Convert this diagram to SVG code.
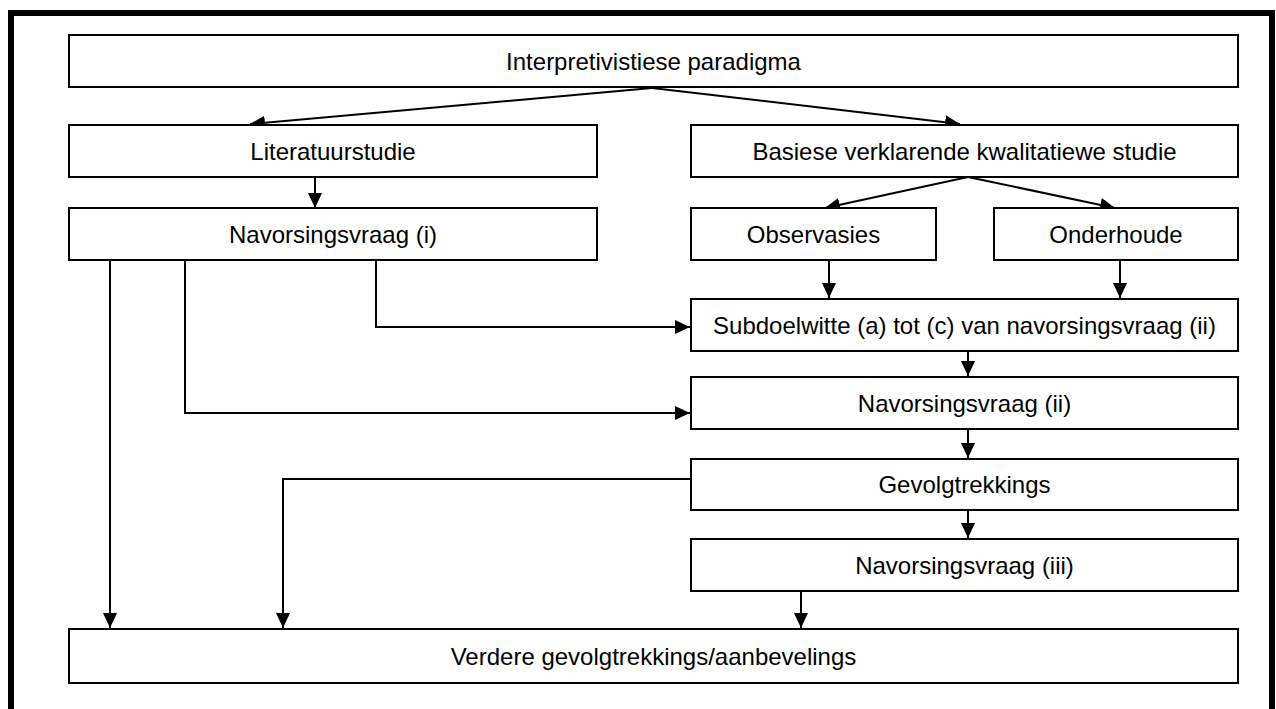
<svg xmlns="http://www.w3.org/2000/svg" width="1276" height="709" viewBox="0 0 1276 709">
<style>
.box{fill:#fff;stroke:#000;stroke-width:2}
.lbl{font-family:"Liberation Sans",Arial,sans-serif;font-size:24px;fill:#000;text-anchor:middle}
.con{fill:none;stroke:#000;stroke-width:2;marker-end:url(#ah)}
</style>
<defs>
<marker id="ah" markerUnits="userSpaceOnUse" markerWidth="15" markerHeight="15" refX="15" refY="7.5" orient="auto" viewBox="0 0 15 15">
<path d="M0,0.5 L15,7.5 L0,14.5 z" fill="#000"/>
</marker>
</defs>
<rect width="1276" height="709" fill="#fff"/>
<path d="M11,709 V13 H1272 V709" fill="none" stroke="#000" stroke-width="6"/>
<g id="connectors">
<path class="con" d="M652,88 L250,124"/>
<path class="con" d="M652,88 L960,124"/>
<path class="con" d="M315,177 V208"/>
<path class="con" d="M968,177 L825,208"/>
<path class="con" d="M968,177 L1115,208"/>
<path class="con" d="M829,260 V298"/>
<path class="con" d="M1120,260 V298"/>
<path class="con" d="M376,260 V327 H690"/>
<path class="con" d="M185,260 V413 H690"/>
<path class="con" d="M110,260 V628"/>
<path class="con" d="M968,351 V376"/>
<path class="con" d="M968,429 V458"/>
<path class="con" d="M968,510 V538"/>
<path class="con" d="M691,479 H283 V628"/>
<path class="con" d="M801,591 V628"/>
</g>
<g id="n-interpretivistiese">
<rect class="box" x="69" y="35" width="1169" height="52"/>
<text class="lbl" x="653.5" y="69.5">Interpretivistiese paradigma</text>
</g>
<g id="n-literatuurstudie">
<rect class="box" x="69" y="125" width="528" height="52"/>
<text class="lbl" x="333" y="159.5">Literatuurstudie</text>
</g>
<g id="n-basiese">
<rect class="box" x="691" y="125" width="547" height="52"/>
<text class="lbl" x="964.5" y="159.5">Basiese verklarende kwalitatiewe studie</text>
</g>
<g id="n-navorsingsvraag-i">
<rect class="box" x="69" y="208" width="528" height="52"/>
<text class="lbl" x="333" y="242.5">Navorsingsvraag (i)</text>
</g>
<g id="n-observasies">
<rect class="box" x="691" y="208" width="245" height="52"/>
<text class="lbl" x="813.5" y="242.5">Observasies</text>
</g>
<g id="n-onderhoude">
<rect class="box" x="994" y="208" width="244" height="52"/>
<text class="lbl" x="1116" y="242.5">Onderhoude</text>
</g>
<g id="n-subdoelwitte">
<rect class="box" x="691" y="299" width="547" height="52"/>
<text class="lbl" x="964.5" y="333.5">Subdoelwitte (a) tot (c) van navorsingsvraag (ii)</text>
</g>
<g id="n-navorsingsvraag-ii">
<rect class="box" x="691" y="377" width="547" height="52"/>
<text class="lbl" x="964.5" y="411.5">Navorsingsvraag (ii)</text>
</g>
<g id="n-gevolgtrekkings">
<rect class="box" x="691" y="459" width="547" height="51"/>
<text class="lbl" x="964.5" y="493">Gevolgtrekkings</text>
</g>
<g id="n-navorsingsvraag-iii">
<rect class="box" x="691" y="539" width="547" height="52"/>
<text class="lbl" x="964.5" y="573.5">Navorsingsvraag (iii)</text>
</g>
<g id="n-verdere">
<rect class="box" x="69" y="629" width="1169" height="54"/>
<text class="lbl" x="653.5" y="664.5">Verdere gevolgtrekkings/aanbevelings</text>
</g>
</svg>
